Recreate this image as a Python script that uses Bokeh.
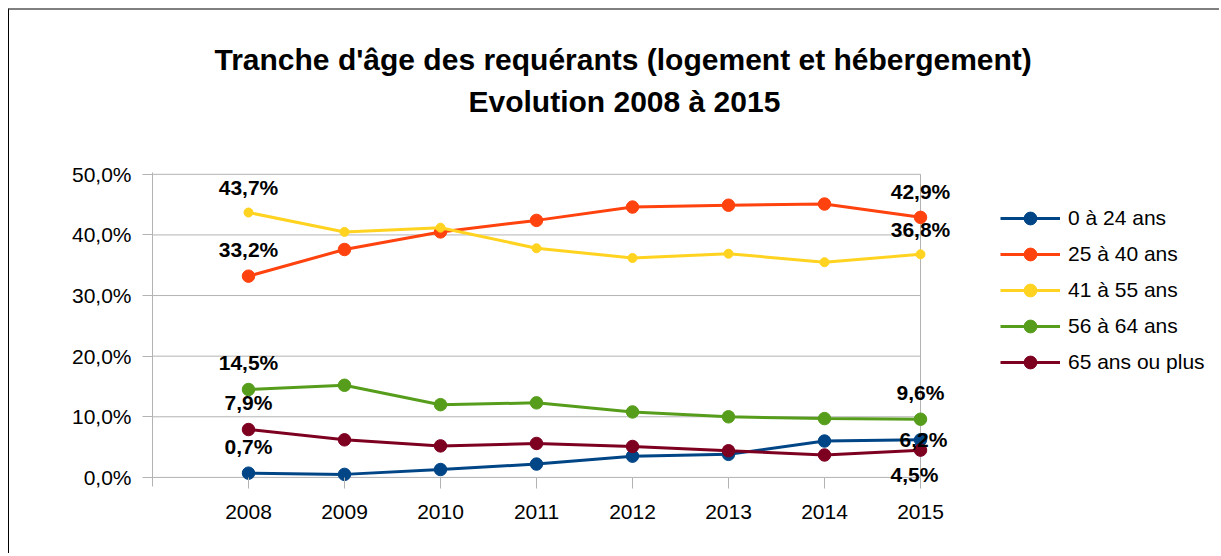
from bokeh.plotting import figure
from bokeh.models import Range1d, FixedTicker, Legend, LegendItem, Title, ColumnDataSource
from bokeh.core.properties import value
from bokeh.embed import file_html
from bokeh.resources import INLINE

# ---- data ----
years = [2008, 2009, 2010, 2011, 2012, 2013, 2014, 2015]
age_0_24 = [0.7, 0.5, 1.3, 2.2, 3.5, 3.8, 6.0, 6.2]
age_25_40 = [33.2, 37.6, 40.5, 42.4, 44.6, 44.9, 45.1, 42.9]
age_41_55 = [43.7, 40.5, 41.2, 37.8, 36.2, 36.9, 35.5, 36.8]
age_56_64 = [14.5, 15.2, 12.0, 12.3, 10.8, 10.0, 9.7, 9.6]
age_65_plus = [7.9, 6.2, 5.2, 5.6, 5.1, 4.4, 3.7, 4.5]
series_names = ["0 à 24 ans", "25 à 40 ans", "41 à 55 ans", "56 à 64 ans", "65 ans ou plus"]
y_ticks = [0, 10, 20, 30, 40, 50]
y_tick_labels = ["0,0%", "10,0%", "20,0%", "30,0%", "40,0%", "50,0%"]
title_line1 = "Tranche d'âge des requérants (logement et hébergement)"
title_line2 = "Evolution 2008 à 2015"

series = [age_0_24, age_25_40, age_41_55, age_56_64, age_65_plus]

# ---- styles ----
colors = ["#004586", "#ff420e", "#ffd320", "#579d1c", "#7e0021"]
marker_sizes = [12.5, 12.5, 9, 12.5, 12.5]
first_offsets = [(0, -27), (0, -27), (0, -25), (0, -27), (0, -27)]
last_offsets = [(3, 0), (0, -26), (0, -25), (0, -27), (-6, 24)]
FONT = "Liberation Sans"
GRID = "#b3b3b3"
PX_PER_YEAR = 96.0
FRAME_W = 1211 - 143 - 5

p = figure(width=1211, height=545,
           x_range=Range1d(years[0] - 1, years[0] - 1 + FRAME_W / PX_PER_YEAR),
           y_range=Range1d(y_ticks[0] - 1.5, y_ticks[-1] + 0.3),
           output_backend="svg", toolbar_location=None,
           min_border_left=143, min_border_right=5,
           min_border_top=162, min_border_bottom=69)
p.styles = {"margin-left": "8px", "margin-top": "8px",
            "border-top": "2px solid #808080", "border-left": "1px solid #000000"}
p.outline_line_color = None
p.grid.visible = False

# axes
p.xaxis.ticker = FixedTicker(ticks=years)
p.xaxis.axis_line_color = None
p.xaxis.major_tick_line_color = GRID
p.xaxis.major_tick_in = 9
p.xaxis.major_tick_out = 2
p.xaxis.minor_tick_line_color = None
p.xaxis.major_label_standoff = 16
p.xaxis.major_label_text_font = FONT
p.xaxis.major_label_text_font_size = "21px"
p.xaxis.major_label_text_color = "black"

p.yaxis.ticker = FixedTicker(ticks=y_ticks)
p.yaxis.major_label_overrides = {t: l for t, l in zip(y_ticks, y_tick_labels)}
p.yaxis.axis_line_color = GRID
p.yaxis.major_tick_line_color = GRID
p.yaxis.major_tick_in = 0
p.yaxis.major_tick_out = 10
p.yaxis.minor_tick_line_color = None
p.yaxis.major_label_standoff = 11
p.yaxis.major_label_text_font = FONT
p.yaxis.major_label_text_font_size = "21px"
p.yaxis.major_label_text_color = "black"

# gridlines and right border of the plot area
x_start = years[0] - 1
p.segment(x0=[x_start] * len(y_ticks), y0=y_ticks, x1=[years[-1]] * len(y_ticks), y1=y_ticks,
          line_color=GRID, line_width=1)
p.segment(x0=[years[-1]], y0=[y_ticks[0]], x1=[years[-1]], y1=[y_ticks[-1]],
          line_color=GRID, line_width=1)

items = []
for name, vals, c, ms in zip(series_names, series, colors, marker_sizes):
    rl = p.line(years, vals, line_color=c, line_width=3)
    rs = p.scatter(years, vals, size=ms, fill_color=c, line_color=c)
    items.append(LegendItem(label=name, renderers=[rl, rs]))

def fmt(v):
    return f"{v:.1f}".replace(".", ",") + "%"

lx, ly, lt, ldx, ldy = [], [], [], [], []
for vals, fo, lo in zip(series, first_offsets, last_offsets):
    for idx, off in ((0, fo), (len(years) - 1, lo)):
        lx.append(years[idx]); ly.append(vals[idx]); lt.append(fmt(vals[idx]))
        ldx.append(off[0]); ldy.append(off[1])
src = ColumnDataSource(dict(x=lx, y=ly, t=lt, dx=ldx, dy=ldy))
p.text(x="x", y="y", text="t", x_offset="dx", y_offset="dy", source=src,
       text_align="center", text_baseline="middle", text_color="black",
       text_font=value(FONT), text_font_size="21px", text_font_style="bold")

legend = Legend(items=items, location=(848, 108), glyph_width=60, glyph_height=32,
                label_height=32, spacing=4, label_standoff=8, padding=0, margin=0,
                border_line_color=None, background_fill_alpha=0,
                label_text_font=FONT, label_text_font_size="21px",
                label_text_color="black")
p.add_layout(legend, "center")

# title: spacer first (closest to plot), then line 2, then line 1
p.add_layout(Title(text=" ", standoff=13, text_font=FONT, text_font_size="30px"), "above")
p.add_layout(Title(text=title_line2, align="left", offset=316, standoff=14,
                   vertical_align="bottom", text_font=FONT, text_font_size="30px",
                   text_font_style="bold", text_color="black"), "above")
p.add_layout(Title(text=title_line1, align="left", offset=62, standoff=0,
                   vertical_align="bottom", text_font=FONT, text_font_size="30px",
                   text_font_style="bold", text_color="black"), "above")

open("out.html", "w").write(file_html(p, INLINE))
